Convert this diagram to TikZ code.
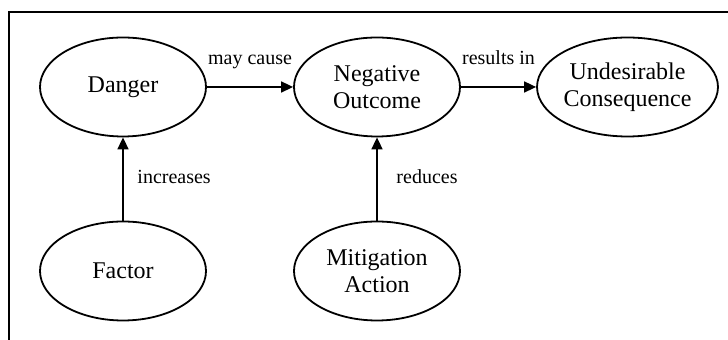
\documentclass[tikz,border=0pt]{standalone}
\usepackage{fontspec}
\setmainfont{Liberation Serif}
\usetikzlibrary{arrows.meta, shapes.geometric}

\tikzset{
  concept/.style={ellipse, draw, line width=0.9pt, minimum width=83pt, minimum height=49.5pt,
    inner sep=0pt, align=center, font=\fontsize{12}{13.5}\selectfont},
  link/.style={-{Triangle[length=6pt, width=5.5pt]}, line width=0.8pt},
  linklabel/.style={font=\fontsize{10}{12}\selectfont, text height=7pt, text depth=2pt}
}

\begin{document}
\begin{tikzpicture}[x=0.5pt, y=-0.5pt]
    \useasboundingbox (0,0) rectangle (728,340);
    % frame (top and left side only)
    \draw[line width=1pt] (9,341) -- (9,12) -- (729,12);

    \node[concept] (danger) at (123,87) {Danger};
    \node[concept] (negative) at (377,87) {Negative\\Outcome};
    \node[concept] (undesirable) at (627.5,87) {Undesirable\\Consequence};
    \node[concept] (factor) at (123,271) {Factor};
    \node[concept] (mitigation) at (377,271) {Mitigation\\Action};

    \draw[link] (danger) -- node[linklabel, above=5.5pt] {may cause} (negative);
    \draw[link] (negative) -- node[linklabel, above=5.5pt] {results in} (undesirable);
    \draw[link] (factor) -- node[linklabel, right=3.5pt] {increases} (danger);
    \draw[link] (mitigation) -- node[linklabel, right=6pt] {reduces} (negative);
\end{tikzpicture}
\end{document}
